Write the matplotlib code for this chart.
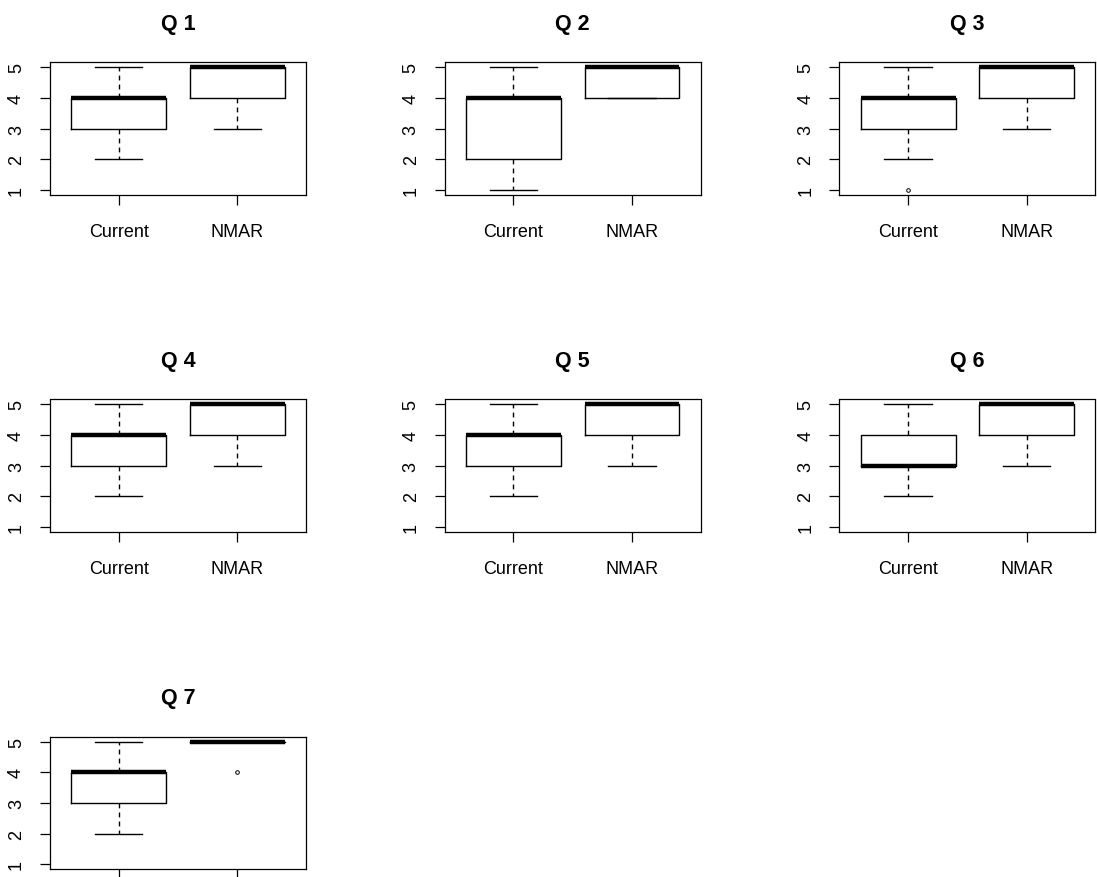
import matplotlib
matplotlib.use("Agg")
import matplotlib.pyplot as plt

plt.rcParams['font.family'] = ['Liberation Sans', 'DejaVu Sans']
plt.rcParams['lines.scale_dashes'] = False

# Boxplot summaries per question: [whisker low, Q1, median, Q3, whisker high]
titulos = ["Q 1", "Q 2", "Q 3", "Q 4", "Q 5", "Q 6", "Q 7"]
grupos = ["Current", "NMAR"]

current = [
    [2, 3, 4, 4, 5],
    [1, 2, 4, 4, 5],
    [2, 3, 4, 4, 5],
    [2, 3, 4, 4, 5],
    [2, 3, 4, 4, 5],
    [2, 3, 3, 4, 5],
    [2, 3, 4, 4, 5],
]
nmar = [
    [3, 4, 5, 5, 5],
    [4, 4, 5, 5, 5],
    [3, 4, 5, 5, 5],
    [3, 4, 5, 5, 5],
    [3, 4, 5, 5, 5],
    [3, 4, 5, 5, 5],
    [5, 5, 5, 5, 5],
]
outliers_current = [[], [], [1], [], [], [], []]
outliers_nmar = [[], [], [], [], [], [], [4]]

W, H = 1097, 878
fig = plt.figure(figsize=(W / 100, H / 100), dpi=100)


def stats(resumen, fliers, nombre):
    lo, q1, med, q3, hi = resumen
    return dict(whislo=lo, q1=q1, med=med, q3=q3, whishi=hi, fliers=fliers, label=nombre)


# layout en pixeles (desde arriba a la izquierda)
left0, colstep = 50, 394.7
top0, rowstep = 63.3, 337.2
aw, ah = 256, 132.5

for i, titulo in enumerate(titulos):
    fila, col = divmod(i, 3)
    x0 = left0 + col * colstep
    y0 = top0 + fila * rowstep
    ax = fig.add_axes([x0 / W, 1 - (y0 + ah) / H, aw / W, ah / H])

    datos = [stats(current[i], outliers_current[i], grupos[0]),
             stats(nmar[i], outliers_nmar[i], grupos[1])]
    ax.bxp(datos, positions=[1, 2], widths=0.8, capwidths=0.4,
           boxprops=dict(color='black', linewidth=1.0),
           medianprops=dict(color='black', linewidth=3.2, solid_capstyle='butt'),
           whiskerprops=dict(color='black', linewidth=1.0, linestyle=(0, (3.5, 3))),
           capprops=dict(color='black', linewidth=1.0),
           flierprops=dict(marker='o', markersize=2.6, markerfacecolor='none',
                           markeredgecolor='black', markeredgewidth=0.7))

    ax.set_xlim(0.42, 2.58)
    ax.set_ylim(0.84, 5.16)
    ax.set_yticks([1, 2, 3, 4, 5])
    ax.set_yticklabels(["1", "2", "3", "4", "5"], rotation=90, va='center')
    ax.set_xticks([1, 2])
    # la ultima fila queda cortada por el borde inferior de la figura
    if fila < 2:
        ax.set_xticklabels(grupos)
    else:
        ax.set_xticklabels([])
    ax.tick_params(axis='both', length=7, width=0.9, labelsize=13, colors='black')
    ax.tick_params(axis='y', pad=11)
    ax.tick_params(axis='x', pad=13)
    for s in ax.spines.values():
        s.set_linewidth(0.9)
    ax.set_title(titulo, fontsize=15.5, fontweight='bold', pad=24)

fig.savefig("out.png", dpi=100)
